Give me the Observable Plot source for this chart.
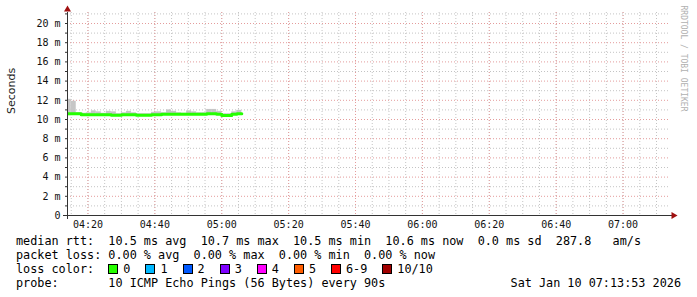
<!DOCTYPE html>
<html><head><meta charset="utf-8">
<script src="https://cdn.jsdelivr.net/npm/d3@7"></script>
<script src="https://cdn.jsdelivr.net/npm/@observablehq/plot@0.6"></script>
<style>
html,body{margin:0;padding:0;background:#fff;}
#wrap{position:relative;width:697px;height:297px;overflow:hidden;background:#fff;}
#chart{position:absolute;left:0;top:0;}
#legend{position:absolute;left:16px;top:234px;width:665px;font-family:"DejaVu Sans Mono",monospace;font-size:11.8px;line-height:14px;color:#000;white-space:pre;}
.row{display:flex;height:14px;align-items:center;}
.box{display:inline-block;width:8px;height:8px;border:1px solid #000;margin-right:5px;}
.item{display:inline-flex;align-items:center;margin-right:15px;}
.spacer{flex:1;}
</style></head><body>
<div id="wrap"><div id="chart"></div><div id="legend"></div></div>
<script>
// ---- data ----
const day = "2026-01-10";
const viewStart = "04:13:53";
const viewEnd = "07:13:53";
const stepTimes = ["04:13:30","04:15:00","04:16:30","04:18:00","04:19:30","04:21:00","04:22:30","04:24:00","04:25:30","04:27:00",
  "04:28:30","04:30:00","04:31:30","04:33:00","04:34:30","04:36:00","04:37:30","04:39:00","04:40:30","04:42:00",
  "04:43:30","04:45:00","04:46:30","04:48:00","04:49:30","04:51:00","04:52:30","04:54:00","04:55:30","04:57:00",
  "04:58:30","05:00:00","05:01:30","05:03:00","05:04:30"];
const stepEnd = "05:06:00";
const medianMs = [10.6,10.6,10.6,10.5,10.5,10.5,10.5,10.5,10.5,10.45,
  10.45,10.5,10.5,10.5,10.45,10.45,10.45,10.5,10.5,10.55,
  10.55,10.55,10.55,10.55,10.55,10.55,10.55,10.55,10.6,10.6,
  10.55,10.42,10.42,10.55,10.6];
const smokeMaxMs = [12.1,11.9,10.7,10.65,10.7,10.9,10.8,10.65,10.85,10.8,
  10.6,10.7,10.85,10.7,10.6,10.6,10.6,10.75,10.8,10.7,
  11.0,10.85,10.7,10.65,10.9,10.8,10.7,10.7,11.05,11.05,
  10.85,10.6,10.6,10.8,10.95];
const smokeMinMs = [10.4,10.42,10.42,10.4,10.4,10.4,10.4,10.4,10.4,10.38,
  10.38,10.4,10.4,10.4,10.38,10.38,10.38,10.4,10.4,10.42,
  10.42,10.42,10.42,10.42,10.42,10.42,10.42,10.42,10.45,10.45,
  10.42,10.36,10.36,10.42,10.45];
const yTicks = [0,2,4,6,8,10,12,14,16,18,20];
const yMinorGrid = [1,3,5,7,9,11,13,15,17,19,21];
const xTickLabels = ["04:20","04:40","05:00","05:20","05:40","06:00","06:20","06:40","07:00"];

const rttNames = ["avg","max","min","now","sd"];
const rttValues = [10.5,10.7,10.5,10.6,0.0];
const rttAmPerS = "287.8";
const lossNames = ["avg","max","min","now"];
const lossValues = [0.00,0.00,0.00,0.00];
const lossColorLabels = ["0","1","2","3","4","5","6-9","10/10"];
const lossColors = ["#26ff00","#00b8ff","#0059ff","#7e00ff","#ff00fe","#ff5e00","#ff0000","#a10000"];
const probeText = "10 ICMP Echo Pings (56 Bytes) every 90s";
const stampText = "Sat Jan 10 07:13:53 2026";

// ---- chart ----
const T = s => new Date(`${day}T${s}Z`);
const steps = stepTimes.map((t, i) => ({
  x1: T(t), x2: T(i + 1 < stepTimes.length ? stepTimes[i + 1] : stepEnd),
  med: medianMs[i], lo: smokeMinMs[i], hi: smokeMaxMs[i]
}));
const linePts = steps.map(d => ({t: d.x1, v: d.med})).concat([{t: steps[steps.length-1].x2, v: steps[steps.length-1].med}]);
const x0 = T(viewStart), x1 = T(viewEnd);
const minorX = d3.utcMinute.every(5).range(x0, x1);
const majorX = xTickLabels.map(s => T(s + ":00"));
const yMax = 203 / 9.6;
const gridGrey = "#c4c4c4", gridRed = "#e49c9c", arrowCol = "#a01010", axisCol = "#333";

const chart = Plot.plot({
  width: 697, height: 232,
  marginLeft: 67, marginRight: 28, marginTop: 12, marginBottom: 17,
  x: {type: "utc", domain: [x0, x1]},
  y: {domain: [0, yMax]},
  style: {fontFamily: "'DejaVu Sans Mono', monospace", fontSize: "10px", background: "#fff", overflow: "visible"},
  marks: [
    Plot.ruleY(yMinorGrid.filter(v => v <= yMax), {stroke: gridGrey, strokeDasharray: "1,2"}),
    Plot.ruleX(minorX, {stroke: gridGrey, strokeDasharray: "1,2"}),
    Plot.ruleY(yTicks.filter(v => v > 0), {stroke: gridRed, strokeDasharray: "1,2"}),
    Plot.ruleX(majorX, {stroke: gridRed, strokeDasharray: "1,2"}),
    Plot.rect(steps, {x1: "x1", x2: "x2", y1: "lo", y2: "hi", fill: "#c6c6c6", clip: true}),
    Plot.line(linePts, {x: "t", y: "v", curve: "step-after", stroke: "#26ff00", strokeWidth: 3, clip: true}),
    Plot.axisY(yTicks, {tickSize: 0, tickPadding: 7, tickFormat: d => d === 0 ? "0" : d + " m", fill: "#111", label: null}),
    Plot.axisY(yTicks.concat(yMinorGrid.filter(v => v < yMax)), {tickSize: 2, tickFormat: () => "", label: null, stroke: axisCol}),
    Plot.axisX(majorX, {tickSize: 0, tickPadding: 5, tickFormat: d3.utcFormat("%H:%M"), fill: "#111", label: null}),
    Plot.ruleY([0], {insetLeft: -4, insetRight: -4, stroke: axisCol}),
    Plot.ruleX([x0], {insetBottom: -4, stroke: axisCol}),
    Plot.dot([{t: x1, v: 0}], {x: "t", y: "v", symbol: "triangle", r: 2.6, rotate: 90, fill: arrowCol, stroke: null, dx: 4}),
    Plot.dot([{t: x0, v: yMax}], {x: "t", y: "v", symbol: "triangle", r: 2.6, fill: arrowCol, stroke: null, dy: -3}),
    Plot.text(["Seconds"], {text: d => d, frameAnchor: "left", dx: -56, rotate: -90, fontFamily: "'DejaVu Sans', sans-serif", fontSize: 11, fill: "#222"}),
    Plot.text(["RRDTOOL / TOBI OETIKER"], {text: d => d, frameAnchor: "top-right", dx: 17, dy: -7, rotate: 90, textAnchor: "start", fontSize: 8, fill: "#b0b0b0"})
  ]
});
document.getElementById("chart").appendChild(chart);

// ---- legend ----
const leg = document.getElementById("legend");
const row = () => { const r = document.createElement("div"); r.className = "row"; leg.appendChild(r); return r; };
const txt = (r, s) => { const sp = document.createElement("span"); sp.textContent = s; r.appendChild(sp); return sp; };
const pad = s => s.padEnd(13, " ");

const r1 = row();
txt(r1, pad("median rtt:") +
  rttValues.slice(0, 4).map((v, i) => v.toFixed(1) + " ms " + rttNames[i]).join("  ") +
  "  " + rttValues[4].toFixed(1) + " ms " + rttNames[4] + "  " + rttAmPerS + "   am/s");
const r2 = row();
txt(r2, pad("packet loss:") + lossValues.map((v, i) => v.toFixed(2) + " % " + lossNames[i]).join("  "));
const r3 = row();
txt(r3, pad("loss color:"));
lossColorLabels.forEach((lab, i) => {
  const it = document.createElement("span"); it.className = "item";
  const b = document.createElement("span"); b.className = "box"; b.style.background = lossColors[i];
  it.appendChild(b); txt(it, lab); r3.appendChild(it);
});
const r4 = row();
txt(r4, pad("probe:") + probeText);
const sp = document.createElement("span"); sp.className = "spacer"; r4.appendChild(sp);
txt(r4, stampText);
</script>
</body></html>
